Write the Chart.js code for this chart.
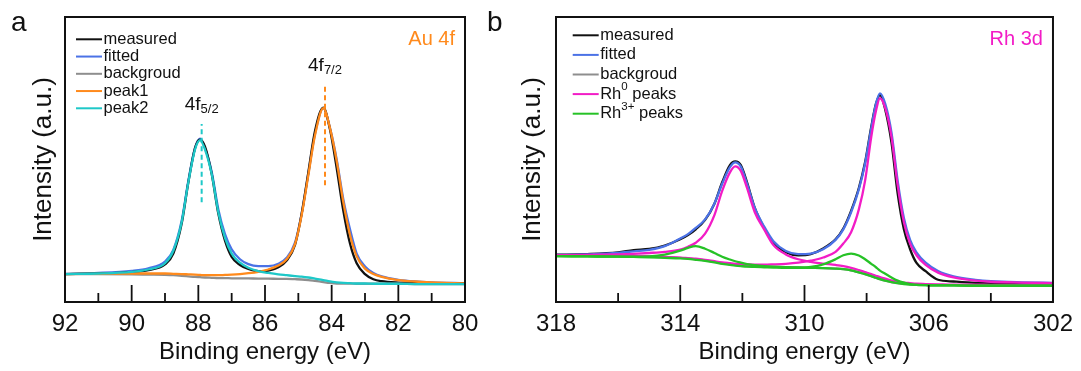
<!DOCTYPE html>
<html>
<head>
<meta charset="utf-8">
<script src="https://cdn.jsdelivr.net/npm/chart.js@4.4.1/dist/chart.umd.min.js"></script>
<style>
  html, body { margin: 0; padding: 0; background: #fff; }
  body { width: 1081px; height: 371px; position: relative; overflow: hidden; }
  canvas { position: absolute; top: 0; }
  #chartA { left: 0; }
  #chartB { left: 480px; }
</style>
</head>
<body>
<canvas id="chartA" width="540" height="371"></canvas>
<canvas id="chartB" width="601" height="371"></canvas>
<script>
// ── Panel a : Au 4f ─────────────────────────────────────────────
const AU_ENERGY = [92, 91, 90, 89.5, 89, 88.75, 88.5, 88.3, 88.1, 87.95,
  87.8, 87.6, 87.4, 87.2, 87.0, 86.75, 86.5, 86.2, 85.9, 85.6,
  85.35, 85.1, 84.9, 84.7, 84.5, 84.25, 84.05, 83.85, 83.65, 83.45,
  83.25, 83.0, 82.75, 82.5, 82, 81.5, 81, 80];
const AU_MEASURED = [9.8, 10.0, 10.5, 11.2, 13.2, 17, 27.5, 42, 54, 57,
  54.5, 45, 31, 21.5, 15.8, 13, 11.6, 10.8, 11, 12.2,
  14.5, 20, 31, 45.5, 60, 68.2, 60.5, 47, 32, 20.5,
  13.6, 9.8, 8.0, 7.3, 6.8, 6.6, 6.5, 6.5];
const AU_FITTED = [9.9, 10.2, 10.9, 11.8, 14.2, 18.3, 28.5, 42.5, 54, 57.3,
  54, 45.7, 32.5, 23.8, 18.5, 15, 13.3, 12.6, 12.6, 13.4,
  15.5, 20.8, 31, 45, 59, 68, 61, 50, 36, 25.5,
  17, 12.5, 10.2, 9, 7.8, 7.2, 6.9, 6.6];
const AU_BACKGROUND = [9.8, 9.8, 9.7, 9.6, 9.5, 9.4, 9.2, 9.0, 8.8, 8.7,
  8.6, 8.5, 8.4, 8.4, 8.3, 8.3, 8.3, 8.2, 8.2, 8.1,
  8.1, 8.0, 7.9, 7.7, 7.4, 7.0, 6.7, 6.5, 6.5, 6.5,
  6.4, 6.4, 6.4, 6.4, 6.4, 6.3, 6.3, 6.3];
const AU_PEAK1 = [9.8, 9.9, 10.0, 10.0, 10.0, 9.9, 9.8, 9.7, 9.6, 9.5,
  9.4, 9.4, 9.4, 9.5, 9.6, 9.8, 10.1, 10.6, 11.4, 12.8,
  15, 20.3, 30.5, 44.5, 58.5, 68, 61, 49.5, 35, 23.5,
  16, 11.7, 9.8, 8.8, 7.7, 7.2, 6.9, 6.5];
const AU_PEAK2 = [9.8, 10.0, 10.6, 11.4, 13.6, 18, 28, 42, 53.5, 56.8,
  53.5, 45, 31.5, 22.5, 17, 13.8, 12, 10.8, 10.2, 9.7,
  9.4, 9.1, 8.9, 8.6, 8.2, 7.7, 7.2, 6.9, 6.7, 6.6,
  6.5, 6.5, 6.4, 6.4, 6.4, 6.3, 6.3, 6.3];

// ── Panel b : Rh 3d ─────────────────────────────────────────────
const RH_ENERGY = [318, 317, 316, 315.5, 315, 314.5, 314, 313.75, 313.5, 313.2,
  312.9, 312.65, 312.4, 312.23, 312.05, 311.85, 311.6, 311.3, 311, 310.6,
  310.2, 309.8, 309.4, 309, 308.75, 308.5, 308.25, 308.05, 307.85, 307.7,
  307.57, 307.4, 307.2, 307, 306.8, 306.6, 306.4, 306.1, 305.7, 305.2,
  304.5, 304, 303, 302];
const RH_MEASURED = [16.6, 16.8, 17.4, 18.2, 18.6, 19.8, 22, 23.5, 25.5, 28.8,
  34.5, 42, 48, 49.3, 48, 42, 33, 26, 20.8, 17.5,
  16.4, 16.8, 18.8, 22, 25.8, 32, 40, 49, 61.5, 69.5,
  72.6, 67.5, 56, 38, 25.5, 18.5, 13.8, 10.8, 7.8, 7.2,
  6.7, 6.5, 6.4, 6.3];
const RH_FITTED = [16.5, 16.7, 17.2, 17.8, 18.3, 19.6, 22.3, 23.8, 26, 29,
  34.5, 41.5, 47.3, 49, 47.5, 41.5, 33, 26.5, 21.3, 17.9,
  16.8, 17.0, 18.5, 21.8, 25.5, 31.5, 39.5, 48.5, 61, 69.5,
  73.2, 69.5, 59.5, 42.5, 29.5, 21.8, 17.5, 13.8, 10.9, 9.0,
  7.8, 7.3, 6.9, 6.7];
const RH_BACKGROUND = [16.3, 16.2, 16.1, 16.0, 15.9, 15.7, 15.5, 15.3, 15.0, 14.6,
  14.1, 13.6, 13.2, 13.0, 12.8, 12.6, 12.5, 12.4, 12.3, 12.2,
  12.1, 12.0, 11.9, 11.7, 11.5, 11.1, 10.4, 9.8, 9.1, 8.5,
  8.0, 7.5, 7.0, 6.6, 6.4, 6.2, 6.1, 6.0, 5.9, 5.9,
  5.8, 5.8, 5.8, 5.8];
const RH0_PEAK_A = [16.4, 16.5, 16.7, 16.9, 17.2, 17.6, 18.4, 19.4, 20.8, 24,
  30.5, 39, 45.5, 47.6, 46, 40, 31.5, 25.5, 20, 16.7,
  15.0, 14.1, 13.5, 13.0, 12.6, 12.0, 11.2, 10.5, 9.8, 9.2,
  8.7, 8.2, 7.6, 7.1, 6.8, 6.6, 6.4, 6.3, 6.2, 6.1,
  6.1, 6.0, 6.0, 6.0];
const RH0_PEAK_B = [16.3, 16.3, 16.2, 16.1, 16.0, 15.8, 15.6, 15.4, 15.2, 14.8,
  14.3, 13.9, 13.6, 13.4, 13.3, 13.2, 13.1, 13.1, 13.2, 13.4,
  13.8, 14.5, 15.6, 17.6, 20.5, 24.5, 32.5, 42.5, 58, 67,
  71.5, 68, 58, 41, 28, 20.5, 16.5, 13, 10.3, 8.6,
  7.5, 7.1, 6.8, 6.6];
const RH3_PEAK_A = [16.1, 16.0, 15.9, 15.9, 16.0, 16.6, 18.0, 19.0, 19.6, 18.7,
  17.2, 15.9, 14.9, 14.3, 13.8, 13.3, 12.9, 12.6, 12.4, 12.2,
  12.1, 12.0, 11.9, 11.7, 11.5, 11.1, 10.4, 9.8, 9.1, 8.5,
  8.0, 7.5, 7.0, 6.6, 6.3, 6.1, 6.0, 5.9, 5.8, 5.8,
  5.7, 5.7, 5.7, 5.7];
const RH3_PEAK_B = [16.1, 16.0, 15.9, 15.8, 15.7, 15.5, 15.3, 15.1, 14.8, 14.4,
  13.9, 13.4, 13.0, 12.8, 12.6, 12.4, 12.3, 12.2, 12.1, 12.0,
  12.0, 12.3, 13.2, 15.0, 16.4, 17.0, 16.3, 15.0, 13.4, 12.2,
  11.0, 9.9, 8.6, 7.5, 6.8, 6.3, 6.0, 5.9, 5.8, 5.8,
  5.7, 5.7, 5.7, 5.7];

// 피크 위치 표시 (점선 + 라벨), 단위: eV / 강도
const AU_MARKER_ENERGY = [84.2, 87.9];
const AU_MARKER_RANGE = [[41, 76], [35, 62.5]];
const AU_MARKER_LABEL = [['4f', '7/2'], ['4f', '5/2']];

const FONT = "'Liberation Sans', Arial, Helvetica, sans-serif";
Chart.defaults.font.family = FONT;
Chart.defaults.color = '#111';

const COLORS = {
  measured: '#111111',
  fitted: '#4B72E6',
  background: '#8E8E8E',
  peak1: '#FF8A1C',
  peak2: '#1EC8C8',
  rh0: '#F21CC6',
  rh3: '#26C226',
};

function toPoints(xs, ys) {
  return xs.map((x, i) => ({ x, y: ys[i] }));
}

// order 값이 작을수록 위에 그려진다
function lineDataset(label, xs, ys, color, order) {
  return {
    label,
    data: toPoints(xs, ys),
    borderColor: color,
    borderWidth: 2.3,
    pointRadius: 0,
    fill: false,
    cubicInterpolationMode: 'monotone',
    order,
  };
}

// 메인 텍스트 + 아래/위 첨자
function drawScripted(ctx, parts, x, y, align) {
  let total = 0;
  parts.forEach(p => { ctx.font = p.size + 'px ' + FONT; p.w = ctx.measureText(p.text).width; total += p.w; });
  let cx = align === 'center' ? x - total / 2 : x;
  parts.forEach(p => {
    ctx.font = p.size + 'px ' + FONT;
    ctx.fillText(p.text, cx, y + (p.dy || 0));
    cx += p.w;
  });
}

// 프레임, 안쪽 눈금, 범례, 패널 라벨
const decorPlugin = {
  id: 'decor',
  afterDatasetsDraw(chart, args, opts) {
    const { ctx, chartArea: area, scales: { x, y } } = chart;
    ctx.save();

    // inward ticks on the bottom axis
    ctx.strokeStyle = '#111';
    ctx.lineWidth = 1.8;
    x.ticks.forEach(t => {
      const px = x.getPixelForValue(t.value);
      const len = t.label === '' ? 9 : 17;
      ctx.beginPath();
      ctx.moveTo(px, area.bottom);
      ctx.lineTo(px, area.bottom - len);
      ctx.stroke();
    });

    // frame
    ctx.lineWidth = 2;
    ctx.strokeRect(area.left, area.top, area.width, area.height);

    // dashed peak markers
    (opts.markers || []).forEach(m => {
      const px = x.getPixelForValue(m.energy);
      const yTop = y.getPixelForValue(m.range[1]);
      ctx.strokeStyle = m.color;
      ctx.lineWidth = 2;
      ctx.setLineDash([5, 3.5]);
      ctx.beginPath();
      ctx.moveTo(px, y.getPixelForValue(m.range[0]));
      ctx.lineTo(px, yTop);
      ctx.stroke();
      ctx.setLineDash([]);
      ctx.fillStyle = '#111';
      ctx.textBaseline = 'alphabetic';
      drawScripted(ctx, [
        { text: m.label[0], size: 19 },
        { text: m.label[1], size: 13, dy: 3 },
      ], px, yTop - 14, 'center');
    });

    // legend
    ctx.textBaseline = 'middle';
    opts.legend.forEach((item, i) => {
      const ly = area.top + opts.legendTop + i * opts.legendStep;
      const lx = area.left + opts.legendLeft;
      ctx.strokeStyle = item.color;
      ctx.lineWidth = 2;
      ctx.beginPath();
      ctx.moveTo(lx, ly);
      ctx.lineTo(lx + 26, ly);
      ctx.stroke();
      ctx.fillStyle = '#111';
      const parts = [{ text: item.text, size: 16.5 }];
      if (item.sup) parts.push({ text: item.sup, size: 11.5, dy: -7 });
      if (item.after) parts.push({ text: item.after, size: 16.5 });
      drawScripted(ctx, parts, lx + 27.5, ly, 'left');
    });

    // element label (Au 4f / Rh 3d)
    ctx.textBaseline = 'alphabetic';
    ctx.textAlign = 'right';
    ctx.fillStyle = opts.titleColor;
    ctx.font = '20px ' + FONT;
    ctx.fillText(opts.title, area.right - 10, area.top + 28);

    // panel tag (a / b)
    ctx.textAlign = 'left';
    ctx.fillStyle = '#111';
    ctx.font = '28px ' + FONT;
    ctx.fillText(opts.tag, opts.tagX, 31);

    ctx.restore();
  },
};

function buildPanel(canvasId, cfg) {
  const canvas = document.getElementById(canvasId);
  return new Chart(canvas, {
    type: 'line',
    data: { datasets: cfg.datasets },
    plugins: [decorPlugin],
    options: {
      responsive: false,
      animation: false,
      devicePixelRatio: 1,
      layout: { padding: { left: 0, top: 17, right: cfg.padRight, bottom: 0 } },
      plugins: {
        legend: { display: false },
        tooltip: { enabled: false },
        decor: cfg.decor,
      },
      scales: {
        x: {
          type: 'linear',
          reverse: true,
          min: cfg.xMin,
          max: cfg.xMax,
          afterFit: s => { s.height = 69; },
          ticks: {
            stepSize: cfg.step,
            autoSkip: false,
            maxRotation: 0,
            padding: 8,
            color: '#111',
            font: { size: 24 },
            callback: v => (cfg.isMajor(v) ? String(v) : ''),
          },
          grid: { display: false, drawTicks: false },
          border: { display: false },
          title: {
            display: true,
            text: 'Binding energy (eV)',
            color: '#111',
            font: { size: 24 },
            padding: { top: 0, bottom: 4 },
          },
        },
        y: {
          min: 0,
          max: 100,
          afterFit: s => { s.width = cfg.yWidth; },
          ticks: { display: false },
          grid: { display: false, drawTicks: false },
          border: { display: false },
          title: {
            display: true,
            text: 'Intensity (a.u.)',
            color: '#111',
            font: { size: 26 },
            padding: { top: cfg.yTitlePad, bottom: 0 },
          },
        },
      },
    },
  });
}

buildPanel('chartA', {
  xMin: 80, xMax: 92, step: 1, padRight: 75, yWidth: 65, yTitlePad: 28,
  isMajor: v => v % 2 === 0,
  datasets: [
    lineDataset('measured', AU_ENERGY, AU_MEASURED, COLORS.measured, 4),
    lineDataset('fitted', AU_ENERGY, AU_FITTED, COLORS.fitted, 5),
    lineDataset('backgroud', AU_ENERGY, AU_BACKGROUND, COLORS.background, 3),
    lineDataset('peak1', AU_ENERGY, AU_PEAK1, COLORS.peak1, 2),
    lineDataset('peak2', AU_ENERGY, AU_PEAK2, COLORS.peak2, 1),
  ],
  decor: {
    tag: 'a', tagX: 11,
    title: 'Au 4f', titleColor: COLORS.peak1,
    legendLeft: 11, legendTop: 22.3, legendStep: 17.25,
    legend: [
      { text: 'measured', color: COLORS.measured },
      { text: 'fitted', color: COLORS.fitted },
      { text: 'backgroud', color: COLORS.background },
      { text: 'peak1', color: COLORS.peak1 },
      { text: 'peak2', color: COLORS.peak2 },
    ],
    markers: AU_MARKER_ENERGY.map((e, i) => ({
      energy: e,
      range: AU_MARKER_RANGE[i],
      label: AU_MARKER_LABEL[i],
      color: i === 0 ? COLORS.peak1 : COLORS.peak2,
    })),
  },
});

buildPanel('chartB', {
  xMin: 302, xMax: 318, step: 2, padRight: 26, yWidth: 76, yTitlePad: 37,
  isMajor: v => (v - 302) % 4 === 0,
  datasets: [
    lineDataset('measured', RH_ENERGY, RH_MEASURED, COLORS.measured, 6),
    lineDataset('fitted', RH_ENERGY, RH_FITTED, COLORS.fitted, 5),
    lineDataset('backgroud', RH_ENERGY, RH_BACKGROUND, COLORS.background, 4),
    lineDataset('Rh0 3d3/2', RH_ENERGY, RH0_PEAK_A, COLORS.rh0, 3),
    lineDataset('Rh0 3d5/2', RH_ENERGY, RH0_PEAK_B, COLORS.rh0, 3),
    lineDataset('Rh3+ 3d3/2', RH_ENERGY, RH3_PEAK_A, COLORS.rh3, 1),
    lineDataset('Rh3+ 3d5/2', RH_ENERGY, RH3_PEAK_B, COLORS.rh3, 1),
  ],
  decor: {
    tag: 'b', tagX: 7,
    title: 'Rh 3d', titleColor: COLORS.rh0,
    legendLeft: 16.7, legendTop: 18.3, legendStep: 19.6,
    legend: [
      { text: 'measured', color: COLORS.measured },
      { text: 'fitted', color: COLORS.fitted },
      { text: 'backgroud', color: COLORS.background },
      { text: 'Rh', sup: '0', after: ' peaks', color: COLORS.rh0 },
      { text: 'Rh', sup: '3+', after: ' peaks', color: COLORS.rh3 },
    ],
    markers: [],
  },
});
</script>
</body>
</html>
